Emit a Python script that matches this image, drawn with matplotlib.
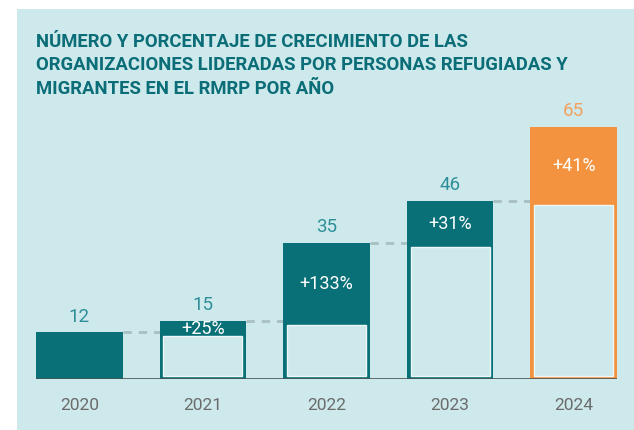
import matplotlib.pyplot as plt
from matplotlib.patches import Rectangle

# Data
years = ['2020', '2021', '2022', '2023', '2024']
values = [12, 15, 35, 46, 65]
growth = [None, '+25%', '+133%', '+31%', '+41%']

teal = '#0a7078'
orange = '#f39340'
panel = '#cde9eb'
label_teal = '#2e8f99'
label_orange = '#f4a060'

fig = plt.figure(figsize=(6.34, 4.30), dpi=100)
fig.patch.set_facecolor('white')

# light panel behind the chart
bg = fig.add_axes([17 / 634, 0, 1 - 17 / 634, (430 - 9) / 430], zorder=-1)
bg.set_facecolor(panel)
bg.set_xticks([])
bg.set_yticks([])
for s in bg.spines.values():
    s.set_visible(False)

ax = fig.add_axes([36 / 634, 51 / 430, 581 / 634, 252 / 430])
ax.set_facecolor('none')
width = 0.70
ax.set_xlim(-width / 2, len(years) - 1 + width / 2)
ax.set_ylim(0, 65)
ax.axis('off')

colors = [teal] * 4 + [orange]
ax.bar(range(len(years)), values, width=width, color=colors, zorder=2)

inset_x = 0.03
for i in range(1, len(values)):
    prev = values[i - 1]
    # inner box showing previous year's level
    ax.add_patch(Rectangle((i - width / 2 + inset_x, 0.8), width - 2 * inset_x, prev - 1.8,
                           facecolor=panel, edgecolor='#eef7f8', linewidth=1, zorder=3))
    # dashed connector at previous level
    ax.plot([i - 1 + width / 2, i - width / 2], [prev, prev], color='#a9bfc1',
            linestyle=(0, (3, 2.5)), linewidth=2, zorder=1)
    ax.text(i, (prev + values[i]) / 2, growth[i], ha='center', va='center_baseline',
            color='white', fontsize=13, family='Roboto', zorder=4)

for i, v in enumerate(values):
    c = label_orange if i == len(values) - 1 else label_teal
    ax.annotate(str(v), (i, v), xytext=(0, 5), textcoords='offset points',
                ha='center', va='bottom', color=c, fontsize=13.5, family='Roboto')
    ax.annotate(years[i], (i, 0), xytext=(0, -19), textcoords='offset points',
                ha='center', va='center', color='#6b6b6b', fontsize=12.5, family='Roboto')

ax.axhline(0, color='#4a5556', linewidth=1.2, zorder=5)

title = ('NÚMERO Y PORCENTAJE DE CRECIMIENTO DE LAS\n'
         'ORGANIZACIONES LIDERADAS POR PERSONAS REFUGIADAS Y\n'
         'MIGRANTES EN EL RMRP POR AÑO')
fig.text(36 / 634, 1 - 33 / 430, title, ha='left', va='top', color='#0b6d78',
         fontsize=13.3, fontweight='bold', family='Roboto', linespacing=1.38)

fig.savefig('out.png', dpi=100)
